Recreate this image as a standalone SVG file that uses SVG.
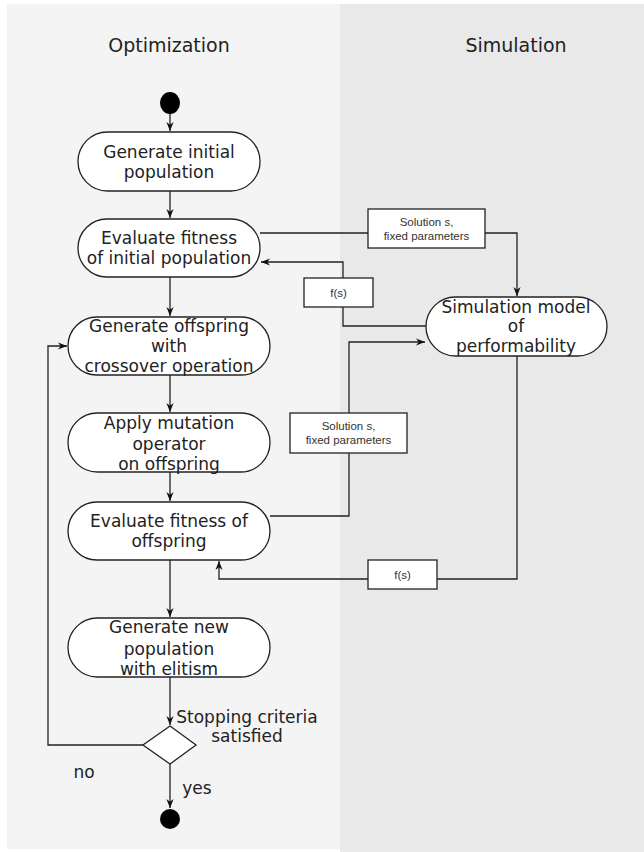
<svg xmlns="http://www.w3.org/2000/svg" width="644" height="852" viewBox="0 0 644 852">
  <style>
    .lane-opt { fill: #f4f4f4; }
    .lane-sim { fill: #e9e9e9; }
    .title { font-family: "DejaVu Sans", Verdana, sans-serif; font-size: 19px; fill: #222; text-anchor: middle; }
    .node rect { fill: #ffffff; stroke: #222; stroke-width: 1.3; }
    .node text, .lbl { font-family: "DejaVu Sans", Verdana, sans-serif; font-size: 17px; fill: #222; text-anchor: middle; }
    .tag rect { fill: #ffffff; stroke: #222; stroke-width: 1.3; }
    .tag text { font-family: "Liberation Sans", Arial, sans-serif; font-size: 11.5px; fill: #333; text-anchor: middle; }
    .edge { fill: none; stroke: #222; stroke-width: 1.3; }
    .dot { fill: #000; }
  </style>
  <defs>
    <marker id="arrow" viewBox="0 0 10 10" refX="10" refY="5" markerWidth="9" markerHeight="9" markerUnits="userSpaceOnUse" orient="auto">
      <path d="M0,1 L10,5 L0,9 L3,5 Z" fill="#111"/>
    </marker>
  </defs>

  <!-- swimlanes -->
  <rect x="0" y="0" width="644" height="852" fill="#ffffff"/>
  <rect class="lane-opt" x="7" y="4" width="333" height="845"/>
  <rect class="lane-sim" x="340" y="4" width="304" height="848"/>
  <text class="title" x="169" y="52">Optimization</text>
  <text class="title" x="516" y="52">Simulation</text>

  <!-- connectors -->
  <g id="connectors">
    <path class="edge" d="M170,113 V131" marker-end="url(#arrow)"/>
    <path class="edge" d="M170,191 V218" marker-end="url(#arrow)"/>
    <path class="edge" d="M170,277 V316" marker-end="url(#arrow)"/>
    <path class="edge" d="M170,375 V412" marker-end="url(#arrow)"/>
    <path class="edge" d="M170,472 V501" marker-end="url(#arrow)"/>
    <path class="edge" d="M170,560 V617" marker-end="url(#arrow)"/>
    <path class="edge" d="M170,677 V725" marker-end="url(#arrow)"/>
    <path class="edge" d="M170,764 V808" marker-end="url(#arrow)"/>
    <!-- loop back when not satisfied -->
    <path class="edge" d="M143,745 H48 V346 H67" marker-end="url(#arrow)"/>
    <!-- initial population to simulation -->
    <path class="edge" d="M260,233 H517 V296" marker-end="url(#arrow)"/>
    <!-- simulation result back -->
    <path class="edge" d="M426,326 H343 V262 H261" marker-end="url(#arrow)"/>
    <!-- offspring to simulation -->
    <path class="edge" d="M270,516 H349 V342 H425" marker-end="url(#arrow)"/>
    <!-- simulation result for offspring -->
    <path class="edge" d="M517,356 V579 H219 V561" marker-end="url(#arrow)"/>
  </g>

  <!-- edge labels -->
  <g id="tag-sol1" class="tag">
    <rect x="368" y="209" width="117" height="39"/>
    <text x="426.5" y="226">Solution s,</text>
    <text x="426.5" y="240">fixed parameters</text>
  </g>
  <g id="tag-fs1" class="tag">
    <rect x="304" y="278" width="69" height="29"/>
    <text x="338.5" y="297">f(s)</text>
  </g>
  <g id="tag-sol2" class="tag">
    <rect x="290" y="413" width="117" height="40"/>
    <text x="348.5" y="430">Solution s,</text>
    <text x="348.5" y="444">fixed parameters</text>
  </g>
  <g id="tag-fs2" class="tag">
    <rect x="368" y="560" width="69" height="29"/>
    <text x="402.5" y="579">f(s)</text>
  </g>

  <!-- start / end -->
  <g id="start"><ellipse class="dot" cx="170" cy="103" rx="10" ry="11"/></g>
  <g id="end"><circle class="dot" cx="170" cy="819" r="10"/></g>

  <g id="gen-init" class="node">
    <rect x="78" y="132" width="182" height="59" rx="29.5"/>
    <text x="169" y="158">Generate initial</text>
    <text x="169" y="178">population</text>
  </g>
  <g id="eval-init" class="node">
    <rect x="78" y="219" width="182" height="58" rx="29"/>
    <text x="169" y="244">Evaluate fitness</text>
    <text x="169" y="264">of initial population</text>
  </g>
  <g id="crossover" class="node">
    <rect x="68" y="317" width="202" height="58" rx="29"/>
    <text x="169" y="332">Generate offspring</text>
    <text x="169" y="352">with</text>
    <text x="169" y="372">crossover operation</text>
  </g>
  <g id="mutation" class="node">
    <rect x="68" y="413" width="202" height="59" rx="29.5"/>
    <text x="169" y="429">Apply mutation</text>
    <text x="169" y="450">operator</text>
    <text x="169" y="470">on offspring</text>
  </g>
  <g id="eval-off" class="node">
    <rect x="68" y="502" width="202" height="58" rx="29"/>
    <text x="169" y="527">Evaluate fitness of</text>
    <text x="169" y="547">offspring</text>
  </g>
  <g id="new-pop" class="node">
    <rect x="68" y="618" width="202" height="59" rx="29.5"/>
    <text x="169" y="633">Generate new</text>
    <text x="169" y="655">population</text>
    <text x="169" y="675">with elitism</text>
  </g>
  <g id="sim-model" class="node">
    <rect x="426" y="297" width="181" height="59" rx="29.5"/>
    <text x="516" y="313">Simulation model</text>
    <text x="516" y="332">of</text>
    <text x="516" y="352">performability</text>
  </g>

  <g id="decision">
    <polygon points="170,726 196,745 170,764 143,745" fill="#ffffff" stroke="#222" stroke-width="1.3"/>
    <text class="lbl" x="247" y="723">Stopping criteria</text>
    <text class="lbl" x="247" y="742">satisfied</text>
  </g>
  <text class="lbl" x="84" y="778">no</text>
  <text class="lbl" x="197" y="794">yes</text>
</svg>
